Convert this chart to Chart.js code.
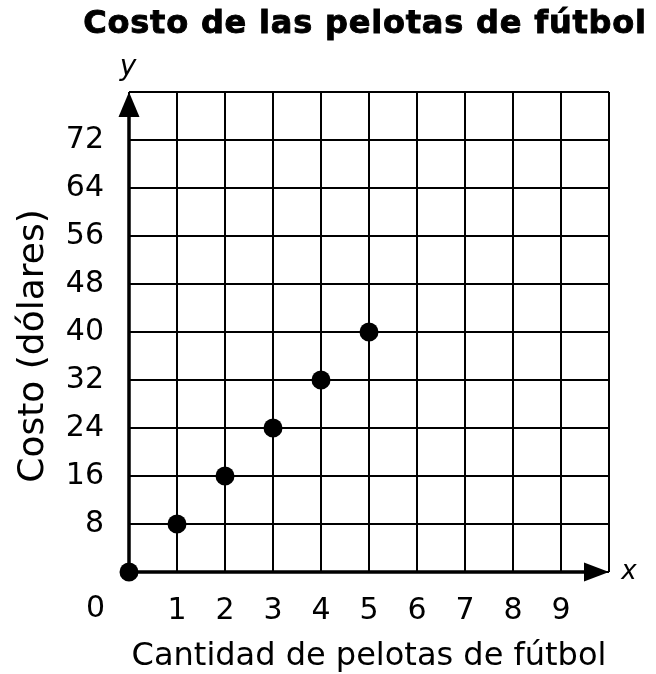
<!DOCTYPE html>
<html>
<head>
<meta charset="utf-8">
<script src="https://cdn.jsdelivr.net/npm/chart.js@4.4.1/dist/chart.umd.min.js"></script>
<style>
  html, body { margin: 0; padding: 0; background: #fff; }
  canvas { display: block; }
</style>
</head>
<body>
<canvas id="myChart" width="656" height="674"></canvas>
<script>
const balls = [0, 1, 2, 3, 4, 5]; // number of soccer balls
const cost = [0, 8, 16, 24, 32, 40]; // cost in dollars
const xTickLabels = [1, 2, 3, 4, 5, 6, 7, 8, 9];
const yTickLabels = [8, 16, 24, 32, 40, 48, 56, 64, 72];

const FONT = "'DejaVu Sans', Verdana, sans-serif";

// axes with arrowheads plus the loose labels (title, x, y, 0, y title)
const axisArrows = {
  id: "axisArrows",
  beforeDatasetsDraw(chart) {
    const { ctx, chartArea, scales } = chart;
    const x0 = scales.x.getPixelForValue(0);
    const y0 = scales.y.getPixelForValue(0);
    ctx.save();
    ctx.strokeStyle = "#000";
    ctx.fillStyle = "#000";
    ctx.lineWidth = 3.5;
    ctx.beginPath();
    ctx.moveTo(x0, y0);
    ctx.lineTo(x0, chartArea.top + 20);
    ctx.moveTo(x0, y0);
    ctx.lineTo(chartArea.right - 20, y0);
    ctx.stroke();
    // y arrowhead
    ctx.beginPath();
    ctx.moveTo(x0, chartArea.top);
    ctx.lineTo(x0 - 10.5, chartArea.top + 25);
    ctx.lineTo(x0 + 10.5, chartArea.top + 25);
    ctx.closePath();
    ctx.fill();
    // x arrowhead
    ctx.beginPath();
    ctx.moveTo(chartArea.right, y0);
    ctx.lineTo(chartArea.right - 25, y0 - 9.5);
    ctx.lineTo(chartArea.right - 25, y0 + 9.5);
    ctx.closePath();
    ctx.fill();
    ctx.restore();
  },
  afterDraw(chart) {
    const { ctx, chartArea, scales } = chart;
    const x0 = scales.x.getPixelForValue(0);
    const y0 = scales.y.getPixelForValue(0);
    ctx.save();
    ctx.fillStyle = "#000";
    ctx.strokeStyle = "#000";
    ctx.textAlign = "center";
    ctx.textBaseline = "middle";
    // title is wider than the plot, so it is drawn here rather than by the title plugin
    ctx.font = "bold 32px " + FONT;
    ctx.letterSpacing = "0.8px";
    ctx.lineWidth = 0.9;
    ctx.fillText("Costo de las pelotas de fútbol", 365, 25);
    ctx.strokeText("Costo de las pelotas de fútbol", 365, 25);
    ctx.letterSpacing = "0px";
    ctx.font = "italic 28px " + FONT;
    ctx.fillText("y", x0 - 1, 68);
    ctx.font = "italic 26px " + FONT;
    ctx.fillText("x", chartArea.right + 20, y0);
    ctx.font = "30px " + FONT;
    ctx.fillText("0", 95.5, 609);
    ctx.translate(34, 346);
    ctx.rotate(-Math.PI / 2);
    ctx.font = "36px " + FONT;
    ctx.fillText("Costo (dólares)", 0, 0);
    ctx.restore();
  },
};

const ctx = document.getElementById("myChart");
const myChart = new Chart(ctx, {
  type: "scatter",
  data: {
    datasets: [
      {
        data: balls.map((b, i) => ({ x: b, y: cost[i] })),
        backgroundColor: "#000",
        borderWidth: 0,
        pointRadius: 9.5,
        clip: false,
      },
    ],
  },
  options: {
    responsive: false,
    animation: false,
    layout: { padding: { left: 0, right: 47, top: 92, bottom: 0 } },
    plugins: {
      legend: { display: false },
      tooltip: { enabled: false },
    },
    scales: {
      x: {
        type: "linear",
        min: 0,
        max: 10,
        afterFit: (s) => { s.height = 102; },
        border: { display: false },
        grid: { color: "#000", lineWidth: 2, drawTicks: false },
        ticks: {
          stepSize: 1,
          padding: 21,
          color: "#000",
          font: { family: FONT, size: 30 },
          callback: (v) => (xTickLabels.includes(v) ? String(v) : ""),
        },
        title: {
          display: true,
          text: "Cantidad de pelotas de fútbol",
          color: "#000",
          font: { family: FONT, size: 32, lineHeight: 1 },
          padding: { top: 0, bottom: 1 },
        },
      },
      y: {
        min: 0,
        max: 80,
        afterFit: (s) => { s.width = 129; },
        border: { display: false },
        grid: { color: "#000", lineWidth: 2, drawTicks: false },
        ticks: {
          stepSize: 8,
          padding: 25,
          color: "#000",
          font: { family: FONT, size: 30 },
          callback: (v) => (yTickLabels.includes(v) ? String(v) : ""),
        },
      },
    },
  },
  plugins: [axisArrows],
});
</script>
</body>
</html>
